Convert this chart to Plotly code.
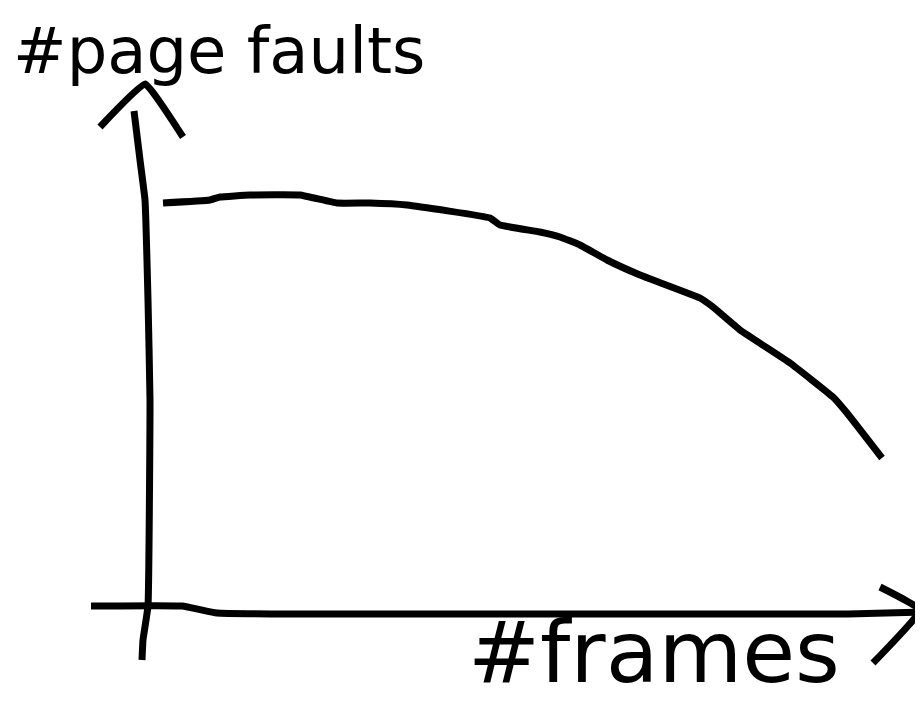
import plotly.graph_objects as go

# Hand-drawn sketch: page faults vs number of frames (arbitrary units, origin at axes crossing)
frames = [0.15, 0.62, 0.72, 1.02, 1.52, 1.89, 2.22, 2.59, 3.42, 3.52, 3.92, 4.12, 4.32,
          4.59, 4.92, 5.52, 5.65, 5.92, 6.42, 6.85, 6.99, 7.34]
page_faults = [4.03, 4.06, 4.09, 4.11, 4.11, 4.03, 4.03, 4.01, 3.88, 3.81, 3.74, 3.69, 3.61,
               3.46, 3.31, 3.08, 2.99, 2.76, 2.43, 2.09, 1.93, 1.48]

# Sketched axes strokes
yaxis_x = [-0.14, -0.08, -0.03, 0.0, 0.02, 0.0, -0.05, -0.06]
yaxis_y = [4.95, 4.46, 4.06, 3.06, 2.06, 0.0, -0.34, -0.54]
xaxis_x = [-0.57, 0.34, 0.69, 1.5, 3.0, 5.0, 7.0, 7.72]
xaxis_y = [0.0, 0.0, -0.07, -0.08, -0.08, -0.08, -0.08, -0.06]
yhead_x = [-0.48, -0.03, 0.35]
yhead_y = [4.79, 5.22, 4.69]
xhead_x = [7.32, 7.72, 7.25]
xhead_y = [0.19, -0.04, -0.57]

y_label = "#page faults"
x_label = "#frames"

fig = go.Figure()
ink = dict(color="black", width=7)
for xs, ys in [(yaxis_x, yaxis_y), (xaxis_x, xaxis_y), (yhead_x, yhead_y),
               (xhead_x, xhead_y), (frames, page_faults)]:
    fig.add_trace(go.Scatter(x=xs, y=ys, mode="lines", line=dict(ink, shape="spline", smoothing=0.3),
                             hoverinfo="skip", showlegend=False))

fig.add_annotation(x=-1.37, y=5.16, text=y_label, showarrow=False, xanchor="left", yanchor="bottom",
                   font=dict(family="DejaVu Sans", size=64, color="black"))
fig.add_annotation(x=3.18, y=-0.98, text=x_label, showarrow=False, xanchor="left", yanchor="bottom",
                   font=dict(family="DejaVu Sans", size=86, color="black"))

fig.update_layout(
    width=915, height=699,
    margin=dict(l=0, r=0, t=0, b=0),
    paper_bgcolor="white", plot_bgcolor="white",
    xaxis=dict(range=[-1.40, 7.75], visible=False, fixedrange=True),
    yaxis=dict(range=[-1.01, 5.98], visible=False, fixedrange=True),
)
fig.write_html("out.html")
